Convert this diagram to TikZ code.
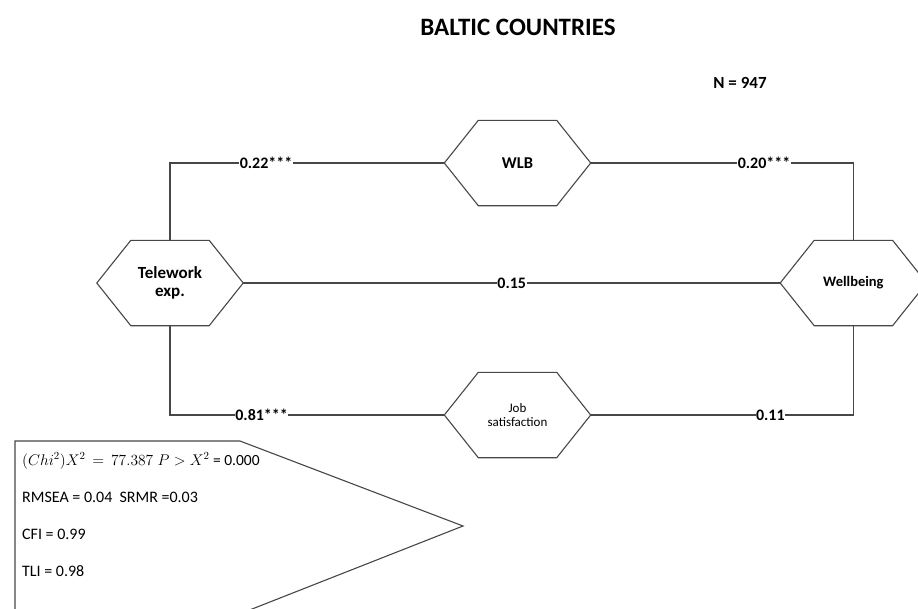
\RequirePackage{fix-cm}
\documentclass[tikz,border=0pt]{standalone}
\usepackage{fontspec}
\setmainfont{Carlito}
\usepackage{tikz}
\usetikzlibrary{positioning}

\begin{document}
\begin{tikzpicture}[
  x=1pt, y=-1pt,
  node distance=10pt and 10pt,
  font=\fontsize{13}{15}\selectfont,
  hexline/.style={draw=black!72, line width=1.1pt},
  hexa/.style={minimum width=146pt, minimum height=85pt, inner sep=0pt, align=center,
    append after command={\pgfextra{\draw[hexline] (\tikzlastnode.west)
      -- ([xshift=34pt]\tikzlastnode.north west) -- ([xshift=-34pt]\tikzlastnode.north east)
      -- (\tikzlastnode.east) -- ([xshift=-34pt]\tikzlastnode.south east)
      -- ([xshift=34pt]\tikzlastnode.south west) -- cycle;}}},
  lbl/.style={fill=white, inner sep=0.5pt, font=\fontsize{16}{18}\selectfont\bfseries},
  path/.style={hexline},
  stat/.style={anchor=west, inner sep=0pt, font=\fontsize{16}{18}\selectfont}
]
\useasboundingbox (0,0) rectangle (918,608);

% Title
\node[font=\fontsize{25}{28}\selectfont\bfseries] (title) at (518,27) {BALTIC COUNTRIES};
\node[font=\fontsize{17}{19}\selectfont\bfseries] (n) at (740,83) {N = 947};

% Constructs
\node[hexa, font=\fontsize{17}{18}\selectfont\bfseries] (tele) at (170,283) {Telework\\exp.};
\node[hexa, right=537pt of tele, font=\fontsize{14.5}{16}\selectfont\bfseries] (well) {Wellbeing};
\node[hexa, font=\fontsize{16.5}{18}\selectfont\bfseries] (wlb) at (517.5,163) {WLB};
\node[hexa, font=\fontsize{13}{14}\selectfont] (job) at (517.5,415) {Job\\satisfaction};

% Paths
\draw[path] (tele.north) |- node[lbl, pos=0.675] {0.22***} (wlb.west);
\draw[path] (wlb.east) -| node[lbl, pos=0.33] {0.20***} (well.north);
\draw[path] (tele.east) -- node[lbl, pos=0.5] {0.15} (well.west);
\draw[path] (tele.south) |- node[lbl, pos=0.667] {0.81***} (job.west);
\draw[path] (job.east) -| node[lbl, pos=0.342] {0.11} (well.south);

% Fit statistics
\draw[hexline, fill=white] (15,441) -- (240,441) -- (463,526) -- (247,611) -- (15,611) -- cycle;
\node[stat, font=\fontsize{15.5}{17}\selectfont] (chi) at (22,461) {$(Chi^{2})X^{2}\,=\,77.387\;P>X^{2}$ = 0.000};
\node[stat] (rmsea) at (22,497) {RMSEA = 0.04\ \ SRMR =0.03};
\node[stat] (cfi) at (22,534) {CFI = 0.99};
\node[stat] (tli) at (22,571) {TLI = 0.98};

\end{tikzpicture}
\end{document}
